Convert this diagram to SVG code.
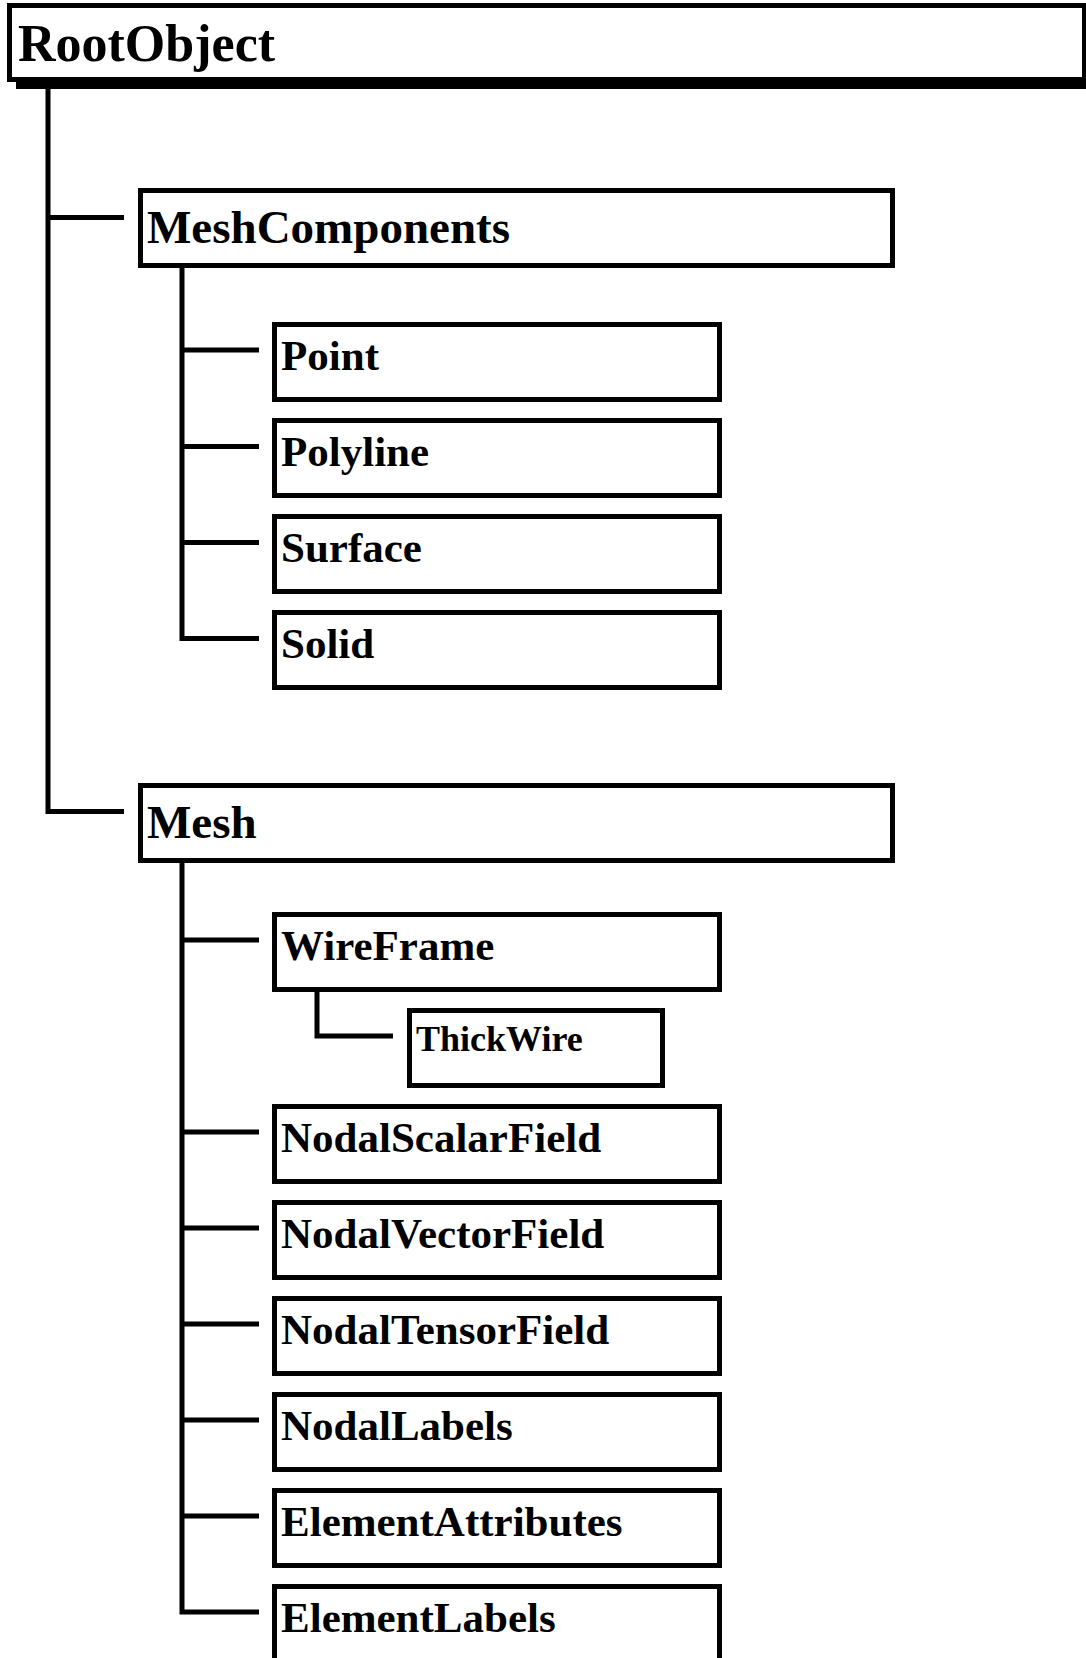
<svg xmlns="http://www.w3.org/2000/svg" width="1086" height="1658" viewBox="0 0 1086 1658">
<style>
.box{fill:#fff;stroke:#000;stroke-width:5}
.con{fill:none;stroke:#000;stroke-width:5;stroke-linejoin:miter}
text{font-family:"Liberation Serif","Times New Roman",serif;font-weight:bold;fill:#000}
.t0{font-size:52px}
.t1{font-size:47px}
.t2{font-size:43px}
.t3{font-size:36px}
</style>
<rect width="1086" height="1658" fill="#fff"/>
<g id="connectors">
<path class="con" d="M48,80 V811.5 H124"/>
<path class="con" d="M48,217.5 H124"/>
<path class="con" d="M182,268 V638.5 H259"/>
<path class="con" d="M182,350 H259 M182,446.5 H259 M182,542.5 H259"/>
<path class="con" d="M182,863 V1612 H259"/>
<path class="con" d="M182,940 H259 M182,1132 H259 M182,1228 H259 M182,1324 H259 M182,1420 H259 M182,1516 H259"/>
<path class="con" d="M317,991 V1036 H393"/>
</g>
<g id="RootObject">
<rect x="16" y="14" width="1080" height="75" fill="#000"/>
<rect class="box" x="9.5" y="5.5" width="1075" height="74"/>
<text class="t0" x="18" y="61">RootObject</text>
</g>
<g id="MeshComponents">
<rect class="box" x="140.5" y="190.5" width="752" height="75"/>
<text class="t1" x="147" y="243">MeshComponents</text>
</g>
<g id="Point">
<rect class="box" x="274.5" y="324.5" width="445" height="75"/>
<text class="t2" x="281" y="370">Point</text>
</g>
<g id="Polyline">
<rect class="box" x="274.5" y="420.5" width="445" height="75"/>
<text class="t2" x="281" y="466">Polyline</text>
</g>
<g id="Surface">
<rect class="box" x="274.5" y="516.5" width="445" height="75"/>
<text class="t2" x="281" y="562">Surface</text>
</g>
<g id="Solid">
<rect class="box" x="274.5" y="612.5" width="445" height="75"/>
<text class="t2" x="281" y="658">Solid</text>
</g>
<g id="Mesh">
<rect class="box" x="140.5" y="785.5" width="752" height="75"/>
<text class="t1" x="147" y="838">Mesh</text>
</g>
<g id="WireFrame">
<rect class="box" x="274.5" y="914.5" width="445" height="75"/>
<text class="t2" x="281" y="960">WireFrame</text>
</g>
<g id="ThickWire">
<rect class="box" x="409.5" y="1010.5" width="253" height="75"/>
<text class="t3" x="416" y="1051">ThickWire</text>
</g>
<g id="NodalScalarField">
<rect class="box" x="274.5" y="1106.5" width="445" height="75"/>
<text class="t2" x="281" y="1152">NodalScalarField</text>
</g>
<g id="NodalVectorField">
<rect class="box" x="274.5" y="1202.5" width="445" height="75"/>
<text class="t2" x="281" y="1248">NodalVectorField</text>
</g>
<g id="NodalTensorField">
<rect class="box" x="274.5" y="1298.5" width="445" height="75"/>
<text class="t2" x="281" y="1344">NodalTensorField</text>
</g>
<g id="NodalLabels">
<rect class="box" x="274.5" y="1394.5" width="445" height="75"/>
<text class="t2" x="281" y="1440">NodalLabels</text>
</g>
<g id="ElementAttributes">
<rect class="box" x="274.5" y="1490.5" width="445" height="75"/>
<text class="t2" x="281" y="1536">ElementAttributes</text>
</g>
<g id="ElementLabels">
<rect class="box" x="274.5" y="1586.5" width="445" height="75"/>
<text class="t2" x="281" y="1632">ElementLabels</text>
</g>
</svg>
